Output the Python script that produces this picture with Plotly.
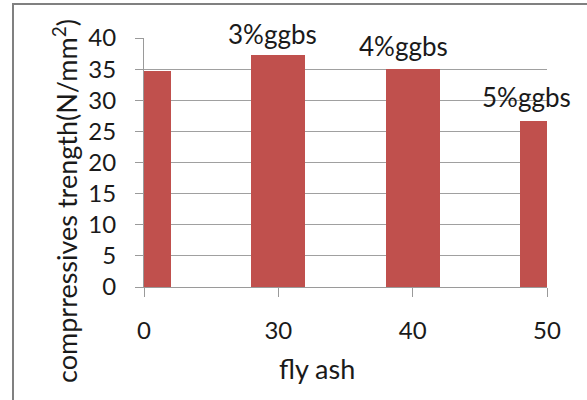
import plotly.graph_objects as go

categories = ["0", "30", "40", "50"]
strength = [34.7, 37.2, 35.1, 26.7]
bar_labels = ["", "3%ggbs", "4%ggbs", "5%ggbs"]
label_y = [None, 40.6, 38.7, 30.6]
y_ticks = [0, 5, 10, 15, 20, 25, 30, 35, 40]
Y_MAX = 40

# style: horizontal nudges of the data labels (category units)
label_dx = [0, -0.04, -0.065, -0.15]

FONT = "Lato"
TXT = "#1a1a1a"
xpos = list(range(len(categories)))

fig = go.Figure()
fig.add_trace(go.Bar(x=xpos, y=strength, width=0.4, marker=dict(color="#c0504d", line=dict(width=0)),
                     showlegend=False, hoverinfo="skip"))

for xp, lab, ly, dx in zip(xpos, bar_labels, label_y, label_dx):
    if lab:
        fig.add_annotation(x=xp + dx, y=ly / Y_MAX, text=lab, showarrow=False, xref="x", yref="paper",
                           xanchor="center", yanchor="middle",
                           font=dict(family=FONT, size=26, color=TXT))

L, R, T, B = 144, 40, 38, 113
W, H = 587, 400
pw, ph = W - L - R, H - T - B

def px_x(px):
    return (px - L) / pw

def px_y(py):
    return (H - B - py) / ph

fig.add_annotation(x=px_x(65), y=px_y(201), xref="paper", yref="paper", textangle=-90,
                   xanchor="center", yanchor="middle",
                   text="comprressives trength(N/mm<sup>2</sup>)", showarrow=False,
                   font=dict(family=FONT, size=27, color=TXT))
fig.add_annotation(x=px_x(317), y=px_y(368), xref="paper", yref="paper", text="fly ash",
                   xanchor="center", yanchor="middle",
                   showarrow=False, font=dict(family=FONT, size=27, color=TXT))

fig.add_shape(type="line", xref="paper", yref="paper", x0=px_x(12), x1=px_x(600), y0=px_y(4), y1=px_y(4),
              line=dict(color="#808080", width=2))
fig.add_shape(type="line", xref="paper", yref="paper", x0=px_x(13), x1=px_x(13), y0=px_y(3), y1=px_y(410),
              line=dict(color="#808080", width=2))

fig.update_layout(
    width=W, height=H, margin=dict(l=L, r=R, t=T, b=B),
    paper_bgcolor="white", plot_bgcolor="white",
    font=dict(family=FONT, size=24, color=TXT),
    bargap=0,
)
fig.update_xaxes(range=[0, 3], tickvals=xpos, ticktext=categories, showgrid=False,
                 showline=True, linecolor="#9a9a9a", linewidth=1, ticks="outside", ticklen=9,
                 tickcolor="#9a9a9a", ticklabelstandoff=13, zeroline=False, fixedrange=True)
fig.update_yaxes(range=[0, Y_MAX], tickvals=y_ticks, showgrid=True, gridcolor="#a0a0a0", gridwidth=1,
                 showline=True, linecolor="#9a9a9a", linewidth=1, ticks="outside", ticklen=8,
                 tickcolor="#9a9a9a", ticklabelstandoff=14, zeroline=False, fixedrange=True)

fig.write_html("out.html", config={"displayModeBar": False},
               post_script="document.body.style.margin='0';document.body.style.overflow='hidden';")
